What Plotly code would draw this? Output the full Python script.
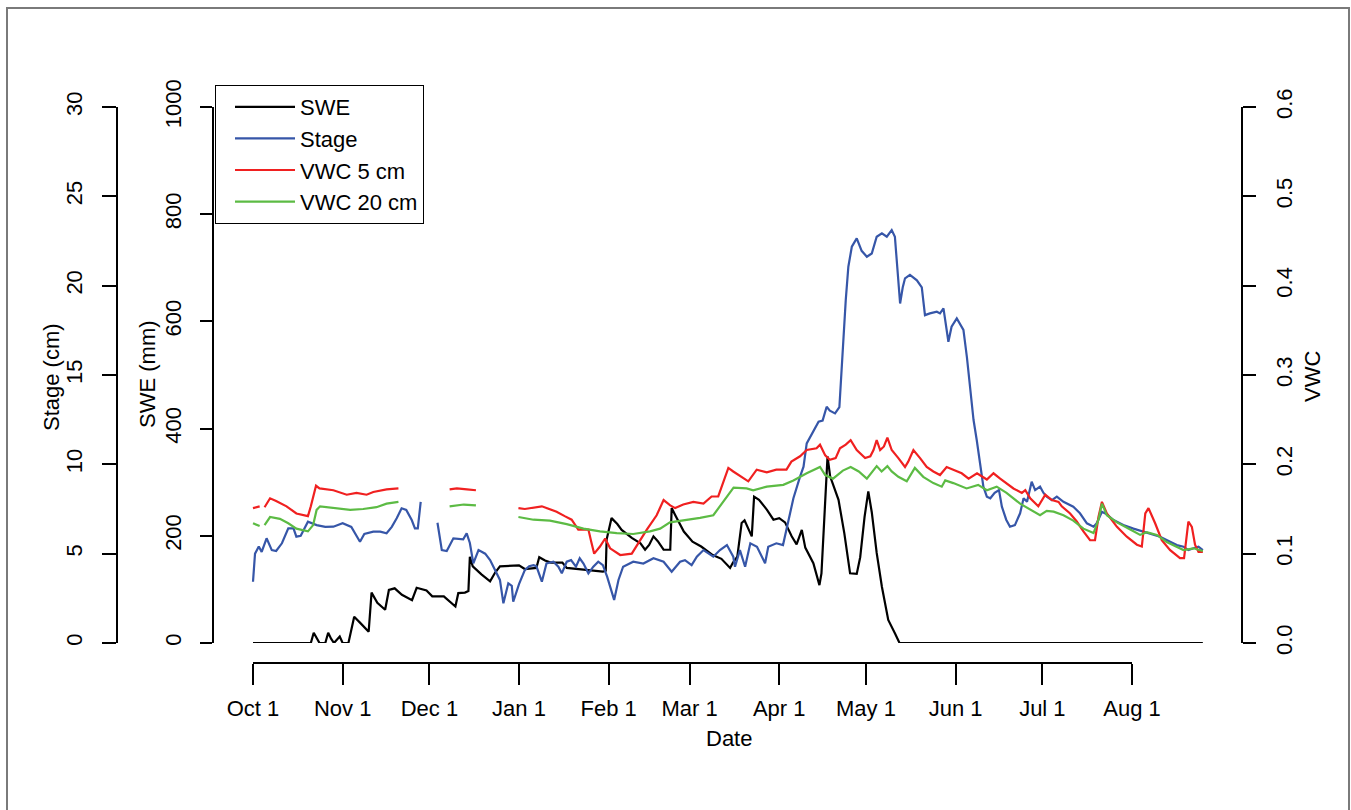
import datetime as dt
import plotly.graph_objects as go

# ---------------- data (day offsets from Oct 1) ----------------
start_date = dt.datetime(2010, 10, 1)

swe_day = [0, 20, 21, 22, 23, 25, 26, 27, 28, 30, 31, 33, 35, 37, 40, 41, 43, 45.7, 47, 49, 51.5, 55, 56.6,
           60, 62, 66, 70, 71, 73.3, 74.5, 75, 76, 79, 82, 83.7, 85.4, 92, 94, 98, 99, 101, 103, 107, 108.5,
           121, 122, 122.3, 124, 126, 127.5, 131, 134, 135.6, 137, 138.5, 140, 142, 144.3, 144.8, 146, 149,
           152, 155, 159, 162, 165, 166, 167.5, 169, 170, 172.5, 173.3, 175, 177.7, 180, 182, 184, 186.3,
           188, 189.8, 191, 193.8, 195.9, 196.6, 197.9, 198.7, 199.6, 201.5, 202.5, 204.5, 206.5, 208.8,
           210, 211.5, 212.8, 214, 215.7, 217.5, 219.7, 222, 223.6, 328.5]
swe_mm = [0, 0, 19, 10, 0, 0, 19, 8, 0, 12, 0, 0, 49, 38, 21, 94, 75, 62, 99, 102, 90, 80, 103,
          98, 87, 87, 68, 93, 94, 97, 161, 143, 128, 115, 131, 143, 145, 138, 140, 160, 154, 150, 150, 140,
          133, 135, 193, 233, 222, 211, 196, 186, 174, 183, 199, 190, 174, 174, 252, 239, 208,
          189, 180, 164, 157, 140, 150, 161, 224, 229, 199, 273, 267, 249, 230, 233, 225, 199,
          184, 211, 178, 149, 108, 130, 267, 348, 311, 281, 267, 205, 130, 129,
          160, 235, 283, 244, 168, 105, 43, 18, 0, 0]

stage_day = [0, 0.7, 2, 3, 4.7, 6.5, 8, 10, 12.2, 14, 15, 16.5, 19, 20.5, 22, 25, 27.8, 31, 34, 37, 38.5,
             41.6, 44, 46.2, 48, 49.7, 51.4, 53, 54.9, 56, 57, 58, 60, 63.8, 65.3, 67, 69.3, 72.7, 73.9, 75,
             76.2, 78, 80.3, 82, 83.7, 85.4, 86.6, 88.3, 89.5, 90, 92, 94, 95.5, 97, 98, 99.9, 101.5, 103.9,
             105.6, 106.8, 108.5, 110, 111.7, 113, 114.3, 116, 117.7, 119.4, 121, 122.5, 124.9, 126.4, 128,
             131.5, 135, 138.5, 142, 144.8, 147.7, 149.4, 151.7, 153.5, 155.8, 159.2, 161.5, 163.9, 166.1,
             166.7, 168.4, 170.2, 172, 174.3, 176, 177.1, 178.2, 181, 183.3, 185.1, 186.9, 189.2, 190.4,
             191.5, 192.1, 194, 195.6, 197, 198.4, 199.5, 201.3, 202.8, 203.6, 204.2, 205, 205.9, 207.1,
             208.8, 210.5, 212.3, 214, 215.7, 217.5, 219.2, 220.9, 222, 222.6, 223.8, 224.7, 225.5, 227.2,
             229.6, 231.3, 232.4, 234.1, 236.5, 237.6, 238.8, 240.5, 241.6, 243.4, 245.7, 246.9, 248, 249.2,
             250.3, 251.5, 252.6, 253.8, 255, 256.5, 258, 259, 260.5, 261.8, 263.5, 265.3, 266.5, 267.7,
             269.3, 270.5, 272.2, 273.4, 274.5, 276.3, 278, 280.3, 283.7, 286, 288.4, 290.7, 291.8, 293.6,
             295.3, 297.6, 301, 304.5, 308, 310.3, 313.7, 317.2, 319.5, 321.8, 323.5, 325.3, 327, 328.5]
stage_cm = [3.43, 5.0, 5.4, 5.1, 5.86, 5.2, 5.15, 5.58, 6.42, 6.42, 5.95, 6.0, 6.79, 6.7, 6.6, 6.5, 6.51, 6.7,
            6.5, 5.67, 6.1, 6.23, 6.23, 6.14, 6.5, 6.98, 7.54, 7.45, 6.88, 6.42, 6.42, 7.9, None, 6.73, 5.2,
            5.15, 5.86, 5.8, 6.14, 5.6, 4.46, 5.2, 5.0, 4.64, 4.08, 3.53, 2.22, 3.34, 3.2, 2.31, 3.3, 4.08,
            4.3, 4.36, 4.3, 3.43, 4.45, 4.55, 4.27, 3.9, 4.55, 4.64, 4.27, 4.74, 4.45, 3.9, 4.27, 4.55, 4.36,
            3.7, 2.41, 3.53, 4.27, 4.55, 4.45, 4.74, 4.55, 3.99, 4.55, 4.64, 4.36, 4.83, 5.2, 4.83, 5.2, 5.48,
            4.83, 4.27, 5.2, 4.27, 5.58, 5.39, 4.83, 4.46, 5.39, 5.58, 5.48, 6.88, 8.1, 9.31, 9.87, 11.17,
            11.36, 11.9, 12.39, 12.45, 13.22, 13.0, 12.85, 13.2, 15.46, 17.33, 19.19, 21.06, 22.18, 22.65,
            21.95, 21.62, 21.8, 22.74, 22.93, 22.74, 23.11, 22.74, 21.62, 19.0, 19.9, 20.41, 20.6, 20.3,
            19.9, 18.35, 18.45, 18.54, 18.45, 18.73, 16.86, 17.7, 18.17, 17.52, 16.0, 14.34, 12.48, 11.36,
            9.87, 8.75, 8.19, 8.1, 8.4, 8.56, 7.63, 6.9, 6.51, 6.6, 7.26, 8.1, 7.9, 9.03, 8.56, 8.75, 8.4,
            8.19, 8.0, 8.19, 7.9, 7.63, 7.26, 6.7, 6.51, 6.7, 7.35, 7.2, 6.88, 6.6, 6.4, 6.23, 6.14, 5.95,
            5.67, 5.48, 5.39, 5.2, 5.3, 5.39, 5.2]

vwc5_day = [0, 2.3, 2.8, 4, 5.9, 8, 11.6, 15, 19, 20, 21.8, 23, 27.8, 32.4, 35.8, 39.3, 41.6, 46.2, 50.3, 51,
            68, 70.5, 74, 77.1, 78, 91.8, 94, 99.9, 105, 107.8, 110.2, 112.5, 116, 117, 118, 120, 121.8,
            123.5, 127, 131, 133.8, 136.2, 139.6, 142, 144.3, 146, 148.8, 152.3, 155.8, 158.6, 160.9, 162.1,
            164.4, 166.1, 168.4, 171.3, 174.2, 177.7, 181, 184.5, 186.2, 189.2, 191.5, 194.9, 196.1, 197.9,
            199.5, 201.5, 203, 205, 206.7, 208.8, 211.7, 213.5, 214.6, 215.7, 216.9, 218.2, 219.4, 220.9,
            223.2, 225.5, 226.6, 228.4, 230.7, 233, 235.3, 237.6, 239.9, 242.2, 245.1, 247.5, 250.4, 253.8,
            256.1, 258.4, 263, 265.9, 267.1, 268.8, 271.6, 274, 276.3, 278.6, 279.7, 282.6, 284.9, 287.2,
            289.5, 291.2, 292.4, 293.6, 295.3, 298.8, 302.2, 305.7, 307.4, 308.6, 309.7, 312, 314.3, 317.2,
            320.6, 322, 323.5, 324.7, 325.8, 327, 328.5]
vwc5 = [0.151, 0.153, None, 0.152, 0.162, 0.159, 0.153, 0.145, 0.142, 0.153, 0.176, 0.173, 0.171, 0.166,
        0.168, 0.166, 0.169, 0.172, 0.173, None,
        0.172, 0.173, 0.172, 0.171, None, 0.151, 0.150, 0.153, 0.147, 0.142, 0.138, 0.127, 0.127, 0.113,
        0.100, 0.108, 0.117, 0.106, 0.0985, 0.100, 0.115, 0.127, 0.143, 0.160, 0.154, 0.151, 0.155, 0.158,
        0.156, 0.164, 0.164, 0.175, 0.196, 0.192, 0.187, 0.181, 0.194, 0.191, 0.194, 0.194, 0.203, 0.209,
        0.216, 0.218, 0.222, 0.210, 0.205, 0.207, 0.218, 0.222, 0.227, 0.216, 0.207, 0.209, 0.216, 0.227,
        0.216, 0.220, 0.230, 0.216, 0.207, 0.197, 0.203, 0.216, 0.207, 0.197, 0.192, 0.188, 0.197, 0.194,
        0.190, 0.184, 0.190, 0.183, 0.190, 0.184, 0.173, 0.168, 0.171, 0.162, 0.153, 0.166, 0.160, 0.158,
        0.153, 0.145, 0.136, 0.125, 0.115, 0.115, 0.141, 0.158, 0.145, 0.130, 0.119, 0.110, 0.108, 0.145,
        0.151, 0.134, 0.115, 0.104, 0.095, 0.095, 0.136, 0.130, 0.110, 0.102, 0.102]

vwc20_day = [0, 2.3, 2.8, 4, 5.9, 9.3, 12.2, 15, 17.4, 19, 20.8, 22, 23.2, 27.8, 33.6, 38.1, 42.7, 46.2, 50.3,
             51, 68, 72.9, 77.1, 78, 91.8, 97, 102.7, 108.5, 114.3, 120, 125.8, 131.5, 137.3, 140.8, 144.2,
             148.8, 154.6, 159.2, 161.5, 163.9, 166.2, 170.7, 173, 177.7, 183.4, 186.9, 191.5, 196.1, 197.9,
             200.6, 204, 206.7, 209.5, 212.3, 215.7, 217.4, 219.4, 220.9, 223.2, 226.1, 228.9, 231.8, 235.3,
             238.2, 239.4, 242.2, 246.8, 250.8, 253.8, 257.2, 260.6, 265.3, 269.9, 272.2, 274.5, 276.9,
             280.3, 283.7, 287.2, 290.7, 292.4, 293.6, 295.3, 298.8, 303.4, 306.8, 309.1, 312.6, 316, 319.5,
             321.8, 325.3, 328.5]
vwc20 = [0.134, 0.131, None, 0.132, 0.141, 0.139, 0.134, 0.128, 0.126, 0.125, 0.132, 0.149, 0.153, 0.151,
         0.149, 0.150, 0.152, 0.156, 0.158, None, 0.153, 0.155, 0.154, None, 0.141, 0.138, 0.137, 0.133,
         0.128, 0.125, 0.123, 0.122, 0.125, 0.128, 0.135, 0.137, 0.140, 0.143, 0.153, 0.164, 0.174, 0.173,
         0.171, 0.175, 0.177, 0.182, 0.190, 0.197, 0.188, 0.184, 0.193, 0.197, 0.192, 0.184, 0.198, 0.192,
         0.198, 0.192, 0.186, 0.181, 0.196, 0.186, 0.179, 0.175, 0.182, 0.179, 0.173, 0.177, 0.171, 0.175,
         0.168, 0.156, 0.147, 0.143, 0.148, 0.147, 0.143, 0.137, 0.128, 0.123, 0.138, 0.156, 0.143, 0.135,
         0.127, 0.121, 0.124, 0.121, 0.113, 0.108, 0.104, 0.106, 0.103]

month_labels = ["Oct 1", "Nov 1", "Dec 1", "Jan 1", "Feb 1", "Mar 1", "Apr 1", "May 1", "Jun 1", "Jul 1", "Aug 1"]
month_starts = ["2010-10-01", "2010-11-01", "2010-12-01", "2011-01-01", "2011-02-01", "2011-03-01",
                "2011-04-01", "2011-05-01", "2011-06-01", "2011-07-01", "2011-08-01"]
stage_ticks = [0, 5, 10, 15, 20, 25, 30]
swe_ticks = [0, 200, 400, 600, 800, 1000]
vwc_ticks = [0.0, 0.1, 0.2, 0.3, 0.4, 0.5, 0.6]


def to_dates(days):
    return [start_date + dt.timedelta(days=d) for d in days]


# ---------------- geometry (pixels) ----------------
W, H = 1351, 810
PL, PR, PT, PB = 117, 1242, 107, 663      # plot area
X_OCT1, X_AUG1 = 253, 1132
Y_ZERO = 643
pw, ph = PR - PL, PB - PT
ppd = (X_AUG1 - X_OCT1) / 304.0
x_left = start_date - dt.timedelta(days=(X_OCT1 - PL) / ppd)
x_right = start_date + dt.timedelta(days=(PR - X_OCT1) / ppd)
ydom = [(PB - Y_ZERO) / ph, 1]


def px(x):
    return (x - PL) / pw


def py(y):
    return (PB - y) / ph


FONT = "Liberation Sans, Arial, Helvetica, sans-serif"
FS = 22
LW = 2.2
BLUE, RED, GREEN = "#3656a8", "#f02020", "#5cbb44"

fig = go.Figure()
fig.add_trace(go.Scatter(x=to_dates(swe_day), y=swe_mm, name="SWE", mode="lines",
                         line=dict(color="black", width=LW), xaxis="x", yaxis="y"))
fig.add_trace(go.Scatter(x=to_dates(stage_day), y=stage_cm, name="Stage", mode="lines",
                         line=dict(color=BLUE, width=LW), xaxis="x", yaxis="y2"))
fig.add_trace(go.Scatter(x=to_dates(vwc5_day), y=vwc5, name="VWC 5 cm", mode="lines",
                         line=dict(color=RED, width=LW), xaxis="x", yaxis="y3"))
fig.add_trace(go.Scatter(x=to_dates(vwc20_day), y=vwc20, name="VWC 20 cm", mode="lines",
                         line=dict(color=GREEN, width=LW), xaxis="x", yaxis="y3"))
# carrier for the drawn date axis
fig.add_trace(go.Scatter(x=[month_starts[0], month_starts[-1]], y=[None, None], mode="lines",
                         showlegend=False, hoverinfo="skip", xaxis="x2", yaxis="y"))

axis_common = dict(showgrid=False, zeroline=False, showline=True, linecolor="black", linewidth=1.6,
                   ticks="outside", tickcolor="black", tickwidth=1.6,
                   tickfont=dict(family=FONT, size=FS, color="black"), fixedrange=True)

fig.update_layout(
    width=W, height=H, autosize=False,
    margin=dict(l=PL, r=W - PR, t=PT, b=H - PB, pad=0),
    paper_bgcolor="white", plot_bgcolor="rgba(0,0,0,0)",
    font=dict(family=FONT, size=FS, color="black"),
    xaxis=dict(domain=[0, 1], range=[x_left, x_right], visible=False, anchor="y", fixedrange=True),
    xaxis2=dict(domain=[px(X_OCT1), px(X_AUG1)], range=[month_starts[0], month_starts[-1]],
                anchor="free", position=0, tickvals=month_starts, ticktext=month_labels,
                ticklen=21, ticklabelstandoff=5, **axis_common),
    yaxis=dict(domain=ydom, range=[0, 1000], anchor="free", position=px(213), side="left",
               tickvals=swe_ticks, ticklen=12, tickangle=-90, ticklabelstandoff=10, **axis_common),
    yaxis2=dict(range=[0, 30], overlaying="y", anchor="free", position=0, side="left",
                tickvals=stage_ticks, ticklen=14, tickangle=-90, ticklabelstandoff=11, **axis_common),
    yaxis3=dict(range=[0, 0.6], overlaying="y", anchor="free", position=1, side="right",
                tickvals=vwc_ticks, tickformat=".1f", ticklen=13, tickangle=-90, ticklabelstandoff=10,
                **axis_common),
    showlegend=True,
    legend=dict(x=px(215), y=py(85), xanchor="left", yanchor="top", bgcolor="white",
                bordercolor="black", borderwidth=1, font=dict(family=FONT, size=FS),
                itemwidth=60, indentation=14, tracegroupgap=0),
    annotations=[
        dict(text="Stage (cm)", x=px(51), y=py(377), xref="paper", yref="paper", showarrow=False,
             textangle=-90, xanchor="center", yanchor="middle", font=dict(size=FS)),
        dict(text="SWE (mm)", x=px(147), y=py(374), xref="paper", yref="paper", showarrow=False,
             textangle=-90, xanchor="center", yanchor="middle", font=dict(size=FS)),
        dict(text="VWC", x=px(1312), y=py(377), xref="paper", yref="paper", showarrow=False,
             textangle=-90, xanchor="center", yanchor="middle", font=dict(size=FS)),
        dict(text="Date", x=px(729), y=py(738), xref="paper", yref="paper", showarrow=False,
             xanchor="center", yanchor="middle", font=dict(size=FS)),
    ],
    shapes=[dict(type="rect", xref="paper", yref="paper", x0=px(7), x1=px(1349), y0=py(840), y1=py(8),
                 line=dict(color="#7a7a7a", width=2), fillcolor="rgba(0,0,0,0)", layer="below")],
)

fig.write_html("out.html", config={"displayModeBar": False},
               post_script="document.body.style.margin='0px';")
